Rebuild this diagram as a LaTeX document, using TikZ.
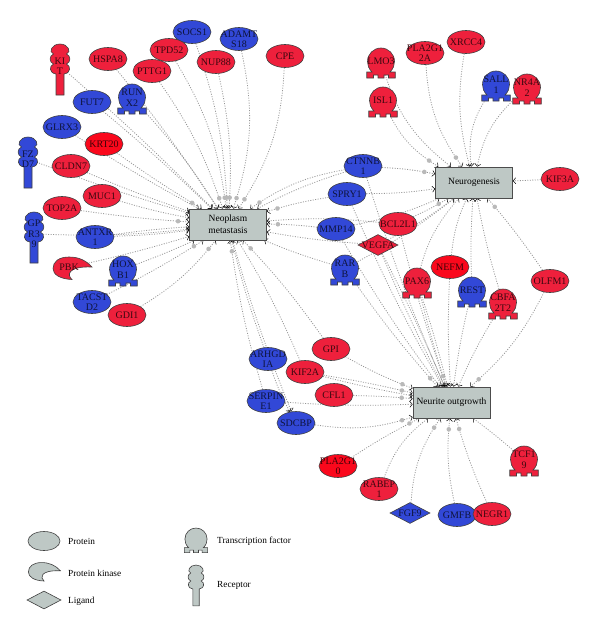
\documentclass[tikz,border=0pt]{standalone}
\usepackage{fontspec}
\setmainfont{Liberation Serif}
\usetikzlibrary{shapes.geometric,arrows.meta,backgrounds,decorations.markings}

\definecolor{genered}{RGB}{238,32,60}
\definecolor{genehot}{RGB}{250,8,28}
\definecolor{geneblue}{RGB}{50,72,215}
\definecolor{legendgray}{RGB}{190,200,197}
\definecolor{linkgray}{RGB}{150,150,150}

\tikzset{
    redgene/.style={fill=genered,text=black!75!genered},
    hotgene/.style={fill=genehot,text=black!75!genehot},
    bluegene/.style={fill=geneblue,text=black!72!geneblue},
    graygene/.style={fill=legendgray},
    outline/.style={draw=black!75,line width=0.6pt},
    protein/.style={ellipse,outline,minimum width=38pt,minimum height=23pt,inner sep=-16pt,align=center},
    ligand/.style={diamond,outline,minimum width=40pt,minimum height=21pt,inner sep=-20pt,aspect=2},
    process/.style={rectangle,draw=black!70,line width=0.8pt,fill=legendgray,minimum width=77pt,minimum height=31pt,align=center,font=\fontsize{9.5}{10.5}\selectfont},
    caption/.style={anchor=west,inner sep=0pt,font=\fontsize{9.3}{10.5}\selectfont},
    txtonly/.style={inner sep=0pt,align=center},
    link/.style={draw=linkgray,line width=0.8pt,dash pattern=on 1pt off 1.5pt,
        -{Straight Barb[black,length=2.5pt,width=6pt,line width=0.5pt]}},
    linkdot/.style={link,postaction={decorate},decoration={markings,
        mark=at position -11pt with {\fill[gray!55] circle (2.3pt);}}}
}

% transcription factor: x, y of the top of its head
\newcommand{\tfnode}[6][1]{
    \begin{scope}[shift={(#4,#5)},scale=#1]
        \draw[outline,#2] (-14.25,30) -- (-14.25,24) -- (-9,24)
            .. controls (-12.5,20.5) and (-13.5,17) .. (-13.5,13.5)
            .. controls (-13.5,6) and (-7.5,0) .. (0,0)
            .. controls (7.5,0) and (13.5,6) .. (13.5,13.5)
            .. controls (13.5,17) and (12.5,20.5) .. (9,24)
            -- (14.25,24) -- (14.25,30) -- (7.5,30) -- (7.5,27) -- (3,27) -- (3,30)
            -- (-3,30) -- (-3,27) -- (-7.5,27) -- (-7.5,30) -- cycle;
        \node[txtonly,#2,fill=none] (#3) at (0,13.5) {#6};
    \end{scope}
}

% receptor: x, y of the top of its head
\newcommand{\rcpnode}[6][1]{
    \begin{scope}[shift={(#4,#5)},scale=#1]
        \draw[outline,#2] (-4,51) -- (-4,30)
            .. controls (-11,29) and (-11,22) .. (-6.5,20)
            .. controls (-11,18) and (-11,12) .. (-6.5,10)
            .. controls (-12,8) and (-8,0) .. (0,0)
            .. controls (8,0) and (12,8) .. (6.5,10)
            .. controls (11,12) and (11,18) .. (6.5,20)
            .. controls (11,22) and (11,29) .. (4,30)
            -- (4,51) -- cycle;
        \node[txtonly,#2,fill=none] (#3) at (0,22) {#6};
    \end{scope}
}

% protein kinase: x, y of its middle
\newcommand{\pknode}[6][1]{
    \begin{scope}[shift={(#4,#5)},scale=#1]
        \draw[outline,#2] (20,-1.5) .. controls (14,-8) and (7,-11.5) .. (-3,-11.5)
            .. controls (-13,-11.5) and (-19,-7) .. (-19,0)
            .. controls (-19,6) and (-12,10.5) .. (0,11)
            .. controls (-5,7) and (-5,-2.5) .. (20,-1.5) -- cycle;
        \node[txtonly,#2,fill=none] (#3) at (-3,-1) {#6};
    \end{scope}
}

\begin{document}
\begin{tikzpicture}[x=1pt,y=-1pt,every node/.style={font=\fontsize{10}{10.5}\selectfont}]
    \useasboundingbox (0,0) rectangle (600,629);

    % Processes
    \node[process] (neoplasm) at (228,224.5) {Neoplasm\\[1.2pt]metastasis};
    \node[process] (neurogen) at (474,182.5) {Neurogenesis};
    \node[process] (neurite) at (451.5,402.5) {Neurite outgrowth};

    % Around neoplasm metastasis
    \node[protein,bluegene] (socs) at (192,32) {SOCS1};
    \node[protein,bluegene] (adamts) at (239,39) {ADAMT\\S18};
    \node[protein,redgene] (cpe) at (285,56) {CPE};
    \node[protein,redgene] (tpd) at (169,50) {TPD52};
    \node[protein,redgene] (nup) at (216,62) {NUP88};
    \node[protein,redgene] (pttg) at (152,71) {PTTG1};
    \node[protein,redgene] (hspa) at (108,59) {HSPA8};
    \rcpnode{redgene}{kit}{60}{44}{KI\\T}
    \tfnode{bluegene}{runx}{132}{84}{RUN\\X2}
    \node[protein,bluegene] (fut) at (92,102) {FUT7};
    \node[protein,bluegene] (glrx) at (62,127) {GLRX3};
    \node[protein,hotgene] (krt) at (104,144) {KRT20};
    \rcpnode{bluegene}{fzd}{28}{137}{FZ\\D7}
    \node[protein,redgene] (cldn) at (71,166) {CLDN7};
    \node[protein,redgene] (muc) at (102,196) {MUC1};
    \node[protein,redgene] (top) at (62,208) {TOP2A};
    \rcpnode{bluegene}{gpr}{34}{212}{GP\\R3\\9}
    \node[protein,bluegene] (antxr) at (95,237) {ANTXR\\1};
    \pknode{redgene}{pbk}{72}{268.5}{PBK}
    \tfnode{bluegene}{hoxb}{123}{256}{HOX\\B1}
    \node[protein,bluegene] (tacstd) at (92,302) {TACST\\D2};
    \node[protein,redgene] (gdi) at (127,315) {GDI1};

    % Between the processes
    \node[protein,bluegene] (ctnnb) at (363,166) {CTNNB\\1};
    \node[protein,bluegene] (spry) at (347,194) {SPRY1};
    \node[protein,bluegene] (mmp) at (336,229) {MMP14};
    \node[ligand,redgene] (vegfa) at (378,245) {VEGFA};
    \node[protein,redgene] (bcl) at (398,224) {BCL2L1};
    \tfnode{bluegene}{rarb}{345}{255}{RAR\\B}
    \tfnode{redgene}{pax}{417}{268}{PAX6}
    \node[protein,hotgene] (nefm) at (450,267) {NEFM};
    \tfnode{bluegene}{rest}{472}{277}{REST}
    \tfnode{redgene}{cbfa}{503}{289}{CBFA\\2T2}
    \node[protein,redgene] (olfm) at (550,281) {OLFM1};

    % Around neurogenesis
    \tfnode{redgene}{lmo}{381}{48}{LMO3}
    \tfnode{redgene}{isl}{383}{87}{ISL1}
    \node[protein,redgene] (pla2a) at (425,53) {PLA2G1\\2A};
    \node[protein,redgene] (xrcc) at (466,42) {XRCC4};
    \tfnode{bluegene}{sall}{496}{71}{SALL\\1}
    \tfnode{redgene}{nr4a}{527}{74}{NR4A\\2}
    \node[protein,redgene] (kif3) at (560,179) {KIF3A};

    % Around neurite outgrowth
    \node[protein,bluegene] (arhgd) at (268,359) {ARHGD\\IA};
    \node[protein,redgene] (gpi) at (331,349) {GPI};
    \node[protein,redgene] (kif2) at (305,372) {KIF2A};
    \node[protein,redgene] (cfl) at (334,395) {CFL1};
    \node[protein,bluegene] (serpin) at (266,401) {SERPIN\\E1};
    \node[protein,bluegene] (sdcbp) at (296,423) {SDCBP};
    \node[protein,hotgene] (pla10) at (338,466) {PLA2G1\\0};
    \node[protein,redgene] (rabep) at (379,489) {RABEP\\1};
    \node[ligand,bluegene] (fgf) at (410,513) {FGF9};
    \node[protein,bluegene] (gmfb) at (457,515) {GMFB};
    \node[protein,redgene] (negr) at (492,514) {NEGR1};
    \tfnode{redgene}{tcf}{524}{446}{TCF1\\9}

    % Legend
    \node[protein,graygene,minimum width=32pt,minimum height=19pt] (lgprot) at (44,541) {};
    \node[caption] (lgprottext) at (68,541) {Protein};
    \pknode[0.82]{graygene}{lgkin}{44}{572}{}
    \node[caption] (lgkintext) at (68,573) {Protein kinase};
    \node[ligand,graygene,minimum width=34pt,minimum height=18pt] (lglig) at (44,600) {};
    \node[caption] (lgligtext) at (68,601) {Ligand};
    \tfnode[0.82]{graygene}{lgtf}{196}{528}{}
    \node[caption] (lgtftext) at (217,541) {Transcription factor};
    \rcpnode[0.8]{graygene}{lgrcp}{196}{565}{}
    \node[caption] (lgrcptext) at (217,585) {Receptor};

    \begin{scope}[on background layer]
    % Links to neoplasm metastasis
    \draw[link] (kit) to[bend left=2] (neoplasm);
    \draw[link] (hspa) to[bend left=3] (neoplasm);
    \draw[link] (fut) to[bend left=2] (neoplasm);
    \draw[link] (runx) to[bend left=5] (neoplasm);
    \draw[linkdot] (pttg) to[bend left=8] (neoplasm);
    \draw[linkdot] (tpd) to[bend left=12] (neoplasm);
    \draw[linkdot] (socs) to[bend left=8] (neoplasm);
    \draw[linkdot] (nup) to[bend left=8] (neoplasm);
    \draw[linkdot] (adamts) to[bend left=15] (neoplasm);
    \draw[linkdot] (cpe) to[bend left=15] (neoplasm);
    \draw[link] (glrx) to[bend right=2] (neoplasm);
    \draw[linkdot] (krt) to[bend right=2] (neoplasm);
    \draw[link] (fzd) to[bend right=2] (neoplasm);
    \draw[link] (cldn) to[bend right=2] (neoplasm);
    \draw[link] (muc) to[bend right=3] (neoplasm);
    \draw[linkdot] (top) to[bend right=2] (neoplasm);
    \draw[link] (gpr) to[bend right=4] (neoplasm);
    \draw[link] (antxr) to[bend left=2] (neoplasm);
    \draw[link] (antxr) to[bend right=3] (neoplasm);
    \draw[link] (pbk) to[bend right=2] (neoplasm);
    \draw[link] (hoxb) to[bend right=2] (neoplasm);
    \draw[linkdot] (tacstd) to[bend right=3] (neoplasm);
    \draw[linkdot] (gdi) to[bend right=10] (neoplasm);
    \draw[link] (arhgd) to[bend left=3] (neoplasm);
    \draw[linkdot] (serpin) to[bend left=4] (neoplasm);
    \draw[link] (kif2) to[bend right=4] (neoplasm);
    \draw[linkdot] (gpi) to[bend right=4] (neoplasm);
    \draw[link] (neoplasm) to[bend right=3] (sdcbp);
    \draw[link] (arhgd) to[bend right=5] (sdcbp);
    \draw[linkdot] (ctnnb) to[bend right=12] (neoplasm);
    \draw[link] (ctnnb) to[bend right=5] (neoplasm);
    \draw[linkdot] (spry) to[bend right=4] (neoplasm);
    \draw[linkdot] (mmp) to[bend right=3] (neoplasm);
    \draw[link] (bcl) to[bend right=5] (neoplasm);
    \draw[link] (vegfa) to[bend left=3] (neoplasm);
    \draw[link] (rarb) to[bend left=3] (neoplasm);

    % Links to neurogenesis
    \draw[linkdot] (isl) to[bend right=18] (neurogen);
    \draw[link] (lmo) to[bend right=18] (neurogen);
    \draw[linkdot] (pla2a) to[bend right=16] (neurogen);
    \draw[link] (xrcc) to[bend right=12] (neurogen);
    \draw[link] (sall) to[bend right=22] (neurogen);
    \draw[link] (nr4a) to[bend right=18] (neurogen);
    \draw[link] (kif3) -- (neurogen);
    \draw[linkdot,line width=0.9pt] (ctnnb) to[bend left=4] (neurogen);
    \draw[link] (spry) to[bend right=4] (neurogen);
    \draw[link] (mmp) to[bend right=6] (neurogen);
    \draw[linkdot] (bcl) to[bend right=3] (neurogen);
    \draw[link] (vegfa) to[bend right=5] (neurogen);
    \draw[link] (rarb) to[bend right=5] (neurogen);
    \draw[link] (pax) to[bend left=14] (neurogen);
    \draw[link] (nefm) to[bend left=9] (neurogen);
    \draw[link] (rest) to[bend left=3] (neurogen);
    \draw[link] (cbfa) to[bend left=3] (neurogen);
    \draw[linkdot] (olfm) to[bend right=3] (neurogen);

    % Links to neurite outgrowth
    \draw[link] (ctnnb) to[bend right=3] (neurite);
    \draw[link] (spry) to[bend right=3] (neurite);
    \draw[link] (mmp) to[bend right=3] (neurite);
    \draw[linkdot] (rarb) to[bend right=3] (neurite);
    \draw[link] (vegfa) to[bend right=2] (neurite);
    \draw[link] (vegfa) to[bend left=2] (neurite);
    \draw[link] (bcl) to[bend right=2] (neurite);
    \draw[linkdot] (pax) to[bend right=2] (neurite);
    \draw[link] (pax) to[bend left=2] (neurite);
    \draw[link] (nefm) to[bend right=3] (neurite);
    \draw[link] (rest) to[bend right=3] (neurite);
    \draw[link] (cbfa) to[bend right=4] (neurite);
    \draw[linkdot] (olfm) to[bend left=11] (neurite);
    \draw[linkdot] (gpi) to[bend right=4] (neurite);
    \draw[link] (kif2) to[bend right=2] (neurite);
    \draw[linkdot] (kif2) to[bend left=2] (neurite);
    \draw[linkdot] (cfl) to[bend left=2] (neurite);
    \draw[link] (serpin) to[bend right=3] (neurite);
    \draw[linkdot] (sdcbp) to[bend right=13] (neurite);
    \draw[linkdot] (pla10) to[bend left=3] (neurite);
    \draw[link] (rabep) to[bend left=16] (neurite);
    \draw[linkdot] (fgf) to[bend left=15] (neurite);
    \draw[linkdot] (gmfb) to[bend left=9] (neurite);
    \draw[linkdot] (negr) to[bend left=4] (neurite);
    \draw[link] (tcf) to[bend right=2] (neurite);
    \end{scope}
\end{tikzpicture}
\end{document}
